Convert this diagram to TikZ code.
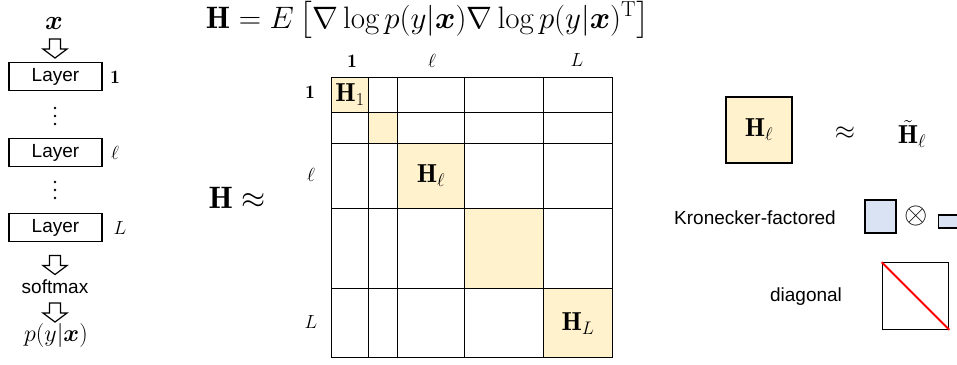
\RequirePackage{fix-cm}
\documentclass[tikz,border=0pt]{standalone}
\usepackage{amsmath,amssymb,bm}
\usepackage{fontspec}
\setsansfont{Liberation Sans}
\usetikzlibrary{calc}
\definecolor{hy}{HTML}{FFF2CC}
\definecolor{hb}{HTML}{DAE3F3}
\newcommand\harr[1]{\draw[hollow] ($(#1)+(-5.5,-9.5)$) -- ($(#1)+(5.5,-9.5)$) -- ($(#1)+(5.5,0.5)$) -- ($(#1)+(12,0.5)$) -- ($(#1)+(0,9.5)$) -- ($(#1)+(-12,0.5)$) -- ($(#1)+(-5.5,0.5)$) -- cycle;}
\begin{document}
\begin{tikzpicture}[x=1pt,y=-1pt,
  layerbox/.style={draw, line width=1.3pt, minimum width=93pt, minimum height=28pt, inner sep=0, font=\sffamily\fontsize{19}{22}\selectfont},
  sans/.style={inner sep=0, font=\sffamily\fontsize{19}{22}\selectfont},
  lab/.style={inner sep=0, font=\fontsize{19}{22}\selectfont},
  hlab/.style={inner sep=0, font=\fontsize{26}{30}\selectfont},
  hollow/.style={draw, line width=1.2pt, fill=white, line join=miter},
  gridline/.style={line width=1pt},
  dotc/.style={fill=black}]
\useasboundingbox (0,0) rectangle (957,364);
\clip (0,0) rectangle (957,364);

% title
\node[anchor=base, inner sep=0, font=\fontsize{31}{37}\selectfont] (title) at (427.5,28)
  {$\mathbf{H} = E\left[\nabla \log p(y|\boldsymbol{x}) \nabla \log p(y|\boldsymbol{x})^{\mathrm{T}}\right]$};

% left column
\node[inner sep=0, font=\fontsize{27}{31}\selectfont] (x) at (54,23) {$\boldsymbol{x}$};
\coordinate (a1) at (55,48.5);
\harr{a1}
\node[layerbox] (l1) at (55.5,76.5) {Layer};
\node[layerbox] (l2) at (55.5,152.5) {Layer};
\node[layerbox] (l3) at (55.5,227.5) {Layer};
\node[lab] (n1) at (115,77) {$\mathbf{1}$};
\node[lab] (n2) at (115,153) {$\ell$};
\node[lab] (n3) at (120,228) {$L$};
\foreach \yy in {108,116,124,182,190,198} \fill[dotc] (55,\yy) circle (1.4);
\coordinate (a2) at (55,265);
\harr{a2}
\node[sans] (sm) at (55,287) {softmax};
\coordinate (a3) at (55,312.5);
\harr{a3}
\node[inner sep=0, font=\fontsize{24}{28}\selectfont] (p) at (56,335) {$p(y|\boldsymbol{x})$};

% H approx
\node[anchor=base, inner sep=0, font=\fontsize{31}{37}\selectfont] (happ) at (237,208) {$\mathbf{H} \approx$};

% matrix
\fill[hy] (331,77) rectangle (368,112);
\fill[hy] (368,112) rectangle (397,143);
\fill[hy] (397,143) rectangle (464,208);
\fill[hy] (464,208) rectangle (543,288);
\fill[hy] (543,288) rectangle (612,357);
\foreach \xx in {368,397,464,543} \draw[gridline] (\xx,77) -- (\xx,357);
\foreach \yy in {112,143,208,288} \draw[gridline] (331,\yy) -- (612,\yy);
\draw[gridline] (331,77) rectangle (612,357);
\node[hlab] (h1) at (350,95) {$\mathbf{H}_1$};
\node[hlab] (hl) at (431,176) {$\mathbf{H}_\ell$};
\node[hlab] (hL) at (578,324) {$\mathbf{H}_L$};
\node[lab] (c1) at (352,61) {$\mathbf{1}$};
\node[lab] (c2) at (432,61) {$\ell$};
\node[lab] (c3) at (577,60) {$L$};
\node[lab] (r1) at (310,92) {$\mathbf{1}$};
\node[lab] (r2) at (311,175) {$\ell$};
\node[lab] (r3) at (311,322) {$L$};

% right panel
\node[draw, fill=hy, line width=1.2pt, minimum size=66pt, inner sep=0, font=\fontsize{26}{30}\selectfont] (hbox) at (759,130) {$\mathbf{H}_\ell$};
\node[hlab] (ap) at (845,133) {$\approx$};
\node[hlab] (ht) at (912,134) {$\tilde{\mathbf{H}}_\ell$};
\node[sans] (kf) at (755,218) {Kronecker-factored};
\node[draw, fill=hb, line width=1.2pt, minimum width=31pt, minimum height=33pt, inner sep=0] (kA) at (880.5,216.5) {};
\node[inner sep=0, font=\fontsize{30}{34}\selectfont] (ot) at (916,216) {$\otimes$};
\node[draw, fill=hb, line width=1.2pt, minimum width=34pt, minimum height=13pt, inner sep=0, anchor=west] (kB) at (938,221.5) {};
\node[sans] (dg) at (806,297) {diagonal};
\node[draw, line width=1.2pt, minimum size=66.5pt, inner sep=0] (db) at (915.5,296) {};
\draw[red, line width=2pt] (db.north west) -- (db.south east);
\end{tikzpicture}
\end{document}
